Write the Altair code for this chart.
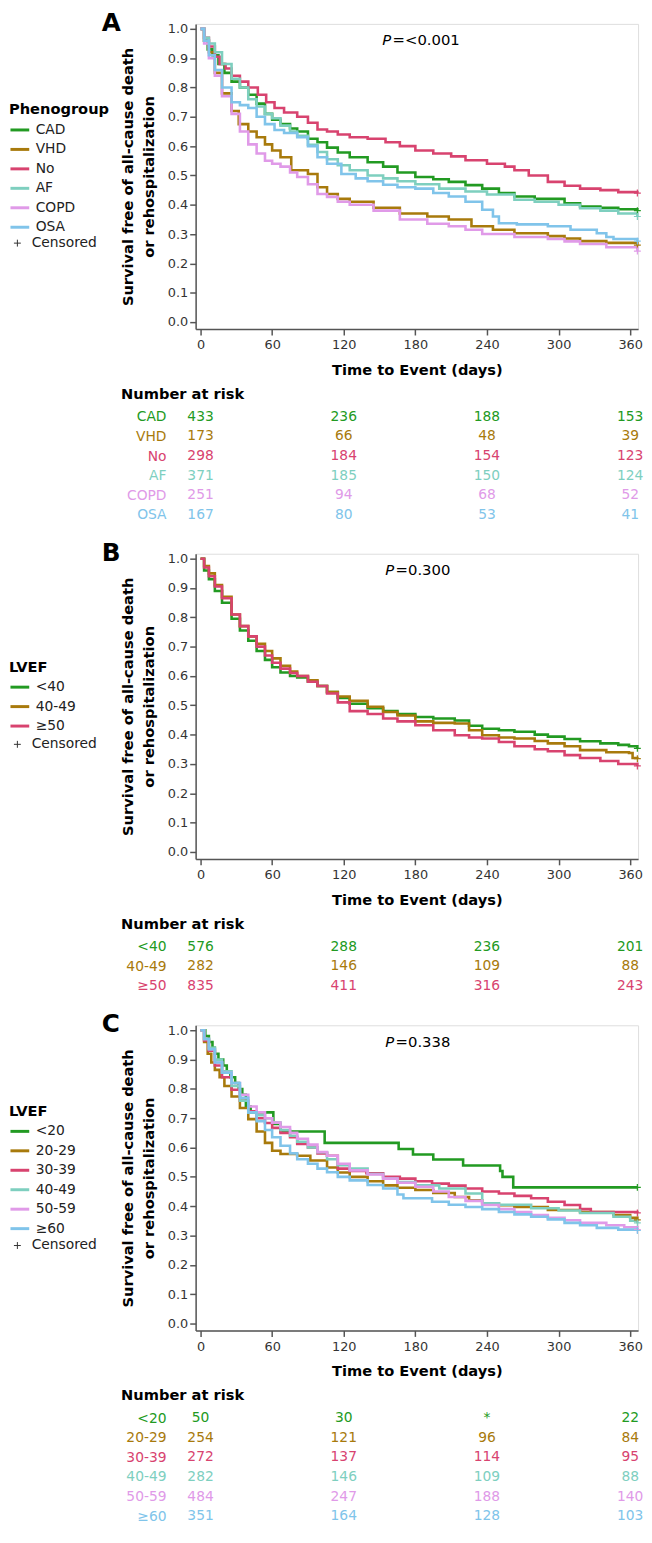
import altair as alt
import pandas as pd

FONT = "DejaVu Sans"

# ---------------- shared tick values ----------------
DAY_TICKS = [0, 60, 120, 180, 240, 300, 360]
SURV_TICKS = [0.0, 0.1, 0.2, 0.3, 0.4, 0.5, 0.6, 0.7, 0.8, 0.9, 1.0]
RISK_DAYS = [0, 120, 240, 360]

# ---------------- Panel A : Phenogroup ----------------
A_GROUPS = ["CAD", "VHD", "No", "AF", "COPD", "OSA"]
A_COLORS = ["#229a22", "#a87a0c", "#d8436f", "#7ecfbf", "#e09ae8", "#80c4ea"]
A_P = "=<0.001"
A_CAD = [(0, 1.0), (3, 0.96), (6, 0.93), (10, 0.91), (15, 0.88), (20, 0.85), (26, 0.82), (33, 0.80),
         (40, 0.775), (47, 0.745), (54, 0.71), (60, 0.69), (67, 0.675), (75, 0.66), (81, 0.65), (90, 0.625),
         (98, 0.613), (106, 0.595), (115, 0.578), (125, 0.562), (140, 0.545), (153, 0.53), (165, 0.51),
         (180, 0.495), (195, 0.487), (208, 0.478), (222, 0.467), (236, 0.455), (250, 0.44), (263, 0.428),
         (280, 0.42), (305, 0.405), (318, 0.394), (335, 0.39), (350, 0.385), (366, 0.38)]
A_VHD = [(0, 1.0), (3, 0.96), (7, 0.92), (12, 0.85), (18, 0.78), (26, 0.72), (32, 0.675), (40, 0.65),
         (47, 0.63), (54, 0.606), (60, 0.585), (67, 0.562), (76, 0.518), (90, 0.505), (98, 0.46),
         (106, 0.437), (115, 0.42), (125, 0.41), (145, 0.39), (167, 0.37), (190, 0.36), (208, 0.35),
         (227, 0.327), (245, 0.315), (263, 0.303), (291, 0.293), (305, 0.285), (318, 0.276), (340, 0.27),
         (366, 0.262)]
A_NO = [(0, 1.0), (3, 0.97), (7, 0.94), (12, 0.905), (16, 0.88), (21, 0.865), (26, 0.84), (33, 0.82),
        (40, 0.80), (48, 0.775), (55, 0.75), (62, 0.73), (70, 0.715), (81, 0.70), (90, 0.68), (98, 0.657),
        (106, 0.65), (115, 0.64), (125, 0.63), (140, 0.625), (155, 0.613), (167, 0.60), (180, 0.585),
        (195, 0.575), (210, 0.565), (222, 0.552), (240, 0.54), (255, 0.53), (263, 0.518), (275, 0.50),
        (291, 0.478), (305, 0.465), (318, 0.455), (335, 0.45), (350, 0.443), (366, 0.44)]
A_AF = [(0, 1.0), (3, 0.97), (7, 0.95), (12, 0.92), (18, 0.88), (26, 0.83), (33, 0.80), (40, 0.76),
        (47, 0.735), (54, 0.71), (60, 0.695), (67, 0.67), (75, 0.65), (81, 0.635), (90, 0.605), (98, 0.58),
        (106, 0.555), (115, 0.535), (125, 0.518), (140, 0.50), (153, 0.49), (165, 0.48), (180, 0.47),
        (200, 0.455), (222, 0.445), (240, 0.435), (263, 0.417), (280, 0.41), (300, 0.40), (318, 0.388),
        (335, 0.38), (350, 0.37), (366, 0.36)]
A_COPD = [(0, 1.0), (3, 0.95), (7, 0.90), (12, 0.84), (18, 0.77), (26, 0.71), (33, 0.65), (40, 0.606),
          (47, 0.575), (54, 0.55), (60, 0.54), (67, 0.53), (75, 0.51), (81, 0.495), (90, 0.47), (98, 0.437),
          (106, 0.427), (115, 0.41), (125, 0.40), (145, 0.38), (167, 0.35), (190, 0.335), (208, 0.327),
          (222, 0.315), (236, 0.30), (263, 0.29), (291, 0.283), (305, 0.275), (318, 0.266), (340, 0.255),
          (366, 0.242)]
A_OSA = [(0, 1.0), (3, 0.96), (7, 0.91), (12, 0.86), (18, 0.80), (26, 0.75), (33, 0.74), (40, 0.73),
         (47, 0.70), (54, 0.675), (62, 0.655), (70, 0.645), (81, 0.63), (90, 0.60), (98, 0.562), (106, 0.54),
         (118, 0.505), (130, 0.49), (140, 0.48), (153, 0.468), (165, 0.46), (180, 0.455), (195, 0.44),
         (208, 0.428), (222, 0.41), (236, 0.383), (245, 0.36), (250, 0.337), (265, 0.333), (291, 0.327),
         (310, 0.315), (332, 0.303), (340, 0.29), (346, 0.283), (366, 0.276)]
A_RISK_CAD = [433, 236, 188, 153]
A_RISK_VHD = [173, 66, 48, 39]
A_RISK_NO = [298, 184, 154, 123]
A_RISK_AF = [371, 185, 150, 124]
A_RISK_COPD = [251, 94, 68, 52]
A_RISK_OSA = [167, 80, 53, 41]

# ---------------- Panel B : LVEF (3 groups) ----------------
B_GROUPS = ["<40", "40-49", "≥50"]
B_COLORS = ["#229a22", "#a87a0c", "#d8436f"]
B_P = "=0.300"
B_LT40 = [(0, 1.0), (3, 0.96), (7, 0.93), (12, 0.89), (18, 0.85), (26, 0.795), (33, 0.755), (40, 0.72),
          (47, 0.685), (54, 0.655), (60, 0.63), (67, 0.612), (75, 0.60), (81, 0.595), (90, 0.58),
          (98, 0.566), (106, 0.545), (115, 0.525), (125, 0.505), (140, 0.49), (153, 0.48), (165, 0.47),
          (180, 0.46), (195, 0.455), (213, 0.448), (225, 0.43), (236, 0.42), (250, 0.415), (263, 0.41),
          (280, 0.40), (291, 0.393), (305, 0.385), (318, 0.377), (335, 0.37), (350, 0.365), (359, 0.36),
          (366, 0.353)]
B_40_49 = [(0, 1.0), (3, 0.975), (7, 0.95), (12, 0.91), (18, 0.87), (26, 0.81), (33, 0.77), (40, 0.735),
           (47, 0.71), (54, 0.685), (60, 0.66), (67, 0.635), (75, 0.615), (81, 0.60), (90, 0.585),
           (98, 0.566), (106, 0.545), (115, 0.53), (125, 0.515), (140, 0.495), (153, 0.477), (165, 0.465),
           (180, 0.445), (195, 0.44), (213, 0.438), (225, 0.415), (236, 0.398), (250, 0.39), (263, 0.387),
           (280, 0.378), (291, 0.37), (305, 0.36), (318, 0.347), (340, 0.34), (359, 0.337), (362, 0.32),
           (366, 0.318)]
B_GE50 = [(0, 1.0), (3, 0.97), (7, 0.94), (12, 0.905), (18, 0.865), (26, 0.81), (33, 0.77), (40, 0.735),
          (47, 0.70), (54, 0.67), (60, 0.645), (67, 0.625), (75, 0.61), (81, 0.60), (90, 0.58), (98, 0.566),
          (106, 0.54), (115, 0.51), (125, 0.48), (140, 0.47), (153, 0.455), (165, 0.445), (180, 0.432),
          (195, 0.415), (213, 0.398), (225, 0.39), (236, 0.387), (250, 0.375), (263, 0.36), (280, 0.35),
          (291, 0.343), (305, 0.33), (318, 0.32), (335, 0.31), (350, 0.30), (366, 0.293)]
B_RISK_LT40 = [576, 288, 236, 201]
B_RISK_40_49 = [282, 146, 109, 88]
B_RISK_GE50 = [835, 411, 316, 243]

# ---------------- Panel C : LVEF (6 groups) ----------------
C_GROUPS = ["<20", "20-29", "30-39", "40-49", "50-59", "≥60"]
C_COLORS = ["#229a22", "#a87a0c", "#d8436f", "#7ecfbf", "#e09ae8", "#80c4ea"]
C_P = "=0.338"
C_LT20 = [(0, 1.0), (4, 0.98), (7, 0.96), (10, 0.94), (12, 0.92), (15, 0.90), (19, 0.88), (22, 0.86),
          (25, 0.84), (29, 0.82), (32, 0.80), (35, 0.78), (38, 0.74), (42, 0.72), (61, 0.68), (67, 0.655),
          (104, 0.616), (166, 0.595), (178, 0.576), (195, 0.559), (220, 0.539), (251, 0.52), (253, 0.50),
          (262, 0.464), (366, 0.464)]
C_20_29 = [(0, 1.0), (3, 0.96), (6, 0.92), (9, 0.89), (12, 0.865), (16, 0.84), (20, 0.81), (26, 0.774),
           (33, 0.735), (40, 0.697), (47, 0.655), (54, 0.616), (60, 0.589), (67, 0.578), (81, 0.572),
           (92, 0.556), (106, 0.532), (115, 0.515), (125, 0.50), (140, 0.485), (153, 0.471), (165, 0.463),
           (180, 0.455), (195, 0.445), (213, 0.431), (225, 0.42), (236, 0.41), (250, 0.403), (263, 0.397),
           (291, 0.387), (318, 0.38), (346, 0.37), (360, 0.36), (366, 0.353)]
C_30_39 = [(0, 1.0), (3, 0.965), (7, 0.93), (12, 0.88), (18, 0.84), (26, 0.797), (33, 0.76), (40, 0.724),
           (47, 0.70), (54, 0.684), (60, 0.667), (67, 0.65), (75, 0.635), (81, 0.612), (90, 0.60), (98, 0.58),
           (106, 0.572), (115, 0.528), (125, 0.52), (139, 0.512), (153, 0.50), (167, 0.494), (180, 0.485),
           (194, 0.477), (208, 0.47), (222, 0.46), (236, 0.45), (250, 0.443), (263, 0.435), (277, 0.427),
           (291, 0.415), (305, 0.404), (318, 0.39), (327, 0.38), (366, 0.377)]
C_40_49 = [(0, 1.0), (3, 0.97), (7, 0.94), (12, 0.90), (18, 0.86), (26, 0.81), (33, 0.76), (40, 0.72),
           (47, 0.71), (54, 0.70), (60, 0.685), (67, 0.66), (75, 0.64), (81, 0.62), (90, 0.60), (98, 0.584),
           (106, 0.56), (115, 0.54), (125, 0.528), (140, 0.51), (153, 0.494), (165, 0.482), (180, 0.471),
           (200, 0.46), (222, 0.443), (236, 0.41), (250, 0.405), (277, 0.393), (300, 0.385), (318, 0.377),
           (346, 0.364), (360, 0.35), (366, 0.343)]
C_50_59 = [(0, 1.0), (3, 0.97), (7, 0.935), (12, 0.89), (18, 0.855), (26, 0.82), (33, 0.78), (40, 0.74),
           (47, 0.72), (54, 0.70), (60, 0.685), (67, 0.67), (75, 0.65), (81, 0.63), (90, 0.61), (98, 0.585),
           (106, 0.572), (115, 0.545), (125, 0.522), (140, 0.508), (153, 0.494), (165, 0.48), (180, 0.466),
           (195, 0.45), (208, 0.431), (222, 0.418), (236, 0.404), (250, 0.39), (263, 0.38), (277, 0.37),
           (291, 0.36), (305, 0.352), (318, 0.343), (340, 0.335), (355, 0.328), (366, 0.32)]
C_GE60 = [(0, 1.0), (3, 0.97), (7, 0.935), (12, 0.89), (18, 0.855), (26, 0.82), (33, 0.77), (40, 0.72),
          (47, 0.69), (54, 0.66), (60, 0.635), (67, 0.606), (75, 0.58), (81, 0.56), (90, 0.545), (98, 0.528),
          (106, 0.516), (115, 0.50), (125, 0.488), (140, 0.472), (153, 0.46), (165, 0.44), (170, 0.427),
          (194, 0.415), (208, 0.405), (222, 0.397), (236, 0.39), (250, 0.38), (263, 0.372), (277, 0.364),
          (291, 0.355), (305, 0.343), (318, 0.335), (332, 0.326), (350, 0.32), (366, 0.317)]
C_RISK_LT20 = [50, 30, "*", 22]
C_RISK_20_29 = [254, 121, 96, 84]
C_RISK_30_39 = [272, 137, 114, 95]
C_RISK_40_49 = [282, 146, 109, 88]
C_RISK_50_59 = [484, 247, 188, 140]
C_RISK_GE60 = [351, 164, 128, 103]

# ---------------- layout / style constants ----------------
W, H = 448, 309
X_DOMAIN = [-4.1, 366.6]
Y_DOMAIN = [-0.024, 1.017]
ROW_STEP = 19.8
TABLE_TOP = 388.1
P_S = 0.961
PLUS = "M-1,0L1,0M0,-1L0,1"
Y_TITLE = ["Survival free of all-cause death", "or rehospitalization"]


def make_panel(letter, legend_title, groups, colors, curves, risks, p_rest, p_t,
               leg_title_y, cens_y):
    rows = []
    for g, pts in zip(groups, curves):
        for t, s in pts:
            rows.append({"group": g, "t": t, "s": s})
    df = pd.DataFrame(rows)
    cens_df = pd.DataFrame([{"group": g, "t": pts[-1][0], "s": pts[-1][1], "cens": "Censored"}
                            for g, pts in zip(groups, curves)])
    risk_df = pd.DataFrame([{"group": g, "t": d, "n": str(v)}
                            for g, vals in zip(groups, risks) for d, v in zip(RISK_DAYS, vals)])
    p_df = pd.DataFrame({"t": [p_t], "s": [P_S], "a": ["P"], "b": [p_rest]})
    lab_df = pd.DataFrame({"lab": [letter]})

    xs = alt.Scale(domain=X_DOMAIN, nice=False, zero=False)
    ys = alt.Scale(domain=Y_DOMAIN, nice=False, zero=False)
    cs = alt.Scale(domain=groups, range=colors)

    x_axis = alt.Axis(values=DAY_TICKS, title="Time to Event (days)", grid=False,
                      labelFont=FONT, labelFontSize=13, labelColor="#333", labelPadding=4,
                      labelFlush=False, labelOverlap=False, tickSize=6, tickColor="#555", tickWidth=1.5,
                      domainColor="#555", domainWidth=1.5,
                      titleFont=FONT, titleFontSize=14.8, titleFontWeight="bold", titleColor="#000",
                      titleY=42, titleBaseline="middle")
    y_axis = alt.Axis(values=SURV_TICKS, tickCount=11, format=".1f", title=Y_TITLE, grid=False,
                      labelFont=FONT, labelFontSize=13, labelColor="#333", labelPadding=2,
                      labelFlush=False, labelOverlap=False, tickSize=6, tickColor="#555", tickWidth=1.5,
                      domainColor="#555", domainWidth=1.5,
                      titleFont=FONT, titleFontSize=14.8, titleFontWeight="bold", titleColor="#000",
                      titleX=-61, titleY=H / 2, titleAngle=270, titleBaseline="bottom",
                      titleAlign="center", titleLineHeight=21)
    leg = alt.Legend(title=legend_title, orient="none", legendX=-189, legendY=leg_title_y - 7.4,
                     direction="vertical", titleFont=FONT, titleFontSize=14.8, titleFontWeight="bold",
                     titleColor="#000", titlePadding=2, titleAnchor="start",
                     labelFont=FONT, labelFontSize=14, labelColor="#222", labelOffset=5,
                     symbolType="stroke", symbolSize=361, symbolStrokeWidth=3, rowPadding=1.7,
                     padding=0)
    sleg = alt.Legend(title=None, orient="none", legendX=-187.5, legendY=cens_y - 7,
                      labelFont=FONT, labelFontSize=14, labelColor="#222", labelOffset=7.5,
                      symbolSize=49, symbolStrokeWidth=1, symbolStrokeColor="#333",
                      symbolFillColor="transparent", padding=0)

    lines = alt.Chart(df).mark_line(interpolate="step-after", strokeWidth=2.6).encode(
        x=alt.X("t:Q", scale=xs, axis=x_axis),
        y=alt.Y("s:Q", scale=ys, axis=y_axis),
        color=alt.Color("group:N", scale=cs, sort=groups, legend=leg),
    )
    cens = alt.Chart(cens_df).mark_point(filled=False, size=49, strokeWidth=1.2, opacity=1).encode(
        x=alt.X("t:Q", scale=xs),
        y=alt.Y("s:Q", scale=ys),
        color=alt.Color("group:N", scale=cs, sort=groups, legend=None),
        shape=alt.Shape("cens:N", scale=alt.Scale(domain=["Censored"], range=[PLUS]), legend=sleg),
    )
    p1 = alt.Chart(p_df).mark_text(font=FONT, fontSize=15, fontStyle="italic", align="right",
                                   baseline="middle", color="#000").encode(
        x=alt.X("t:Q", scale=xs), y=alt.Y("s:Q", scale=ys), text="a:N")
    p2 = alt.Chart(p_df).mark_text(font=FONT, fontSize=15, align="left", dx=1.5,
                                   baseline="middle", color="#000").encode(
        x=alt.X("t:Q", scale=xs), y=alt.Y("s:Q", scale=ys), text="b:N")
    lab = alt.Chart(lab_df).mark_text(font=FONT, fontSize=25, fontWeight="bold", align="left",
                                      baseline="alphabetic", color="#000").encode(
        x=alt.value(-95), y=alt.value(7), text="lab:N")

    expr = " : ".join(f"datum.value === '{g}' ? '{c}'" for g, c in zip(groups, colors)) + " : '#000'"
    n = len(groups)
    tab = alt.Chart(risk_df).mark_text(font=FONT, fontSize=14, align="center", baseline="middle").encode(
        x=alt.X("t:Q", scale=xs),
        y=alt.Y("group:N", sort=groups,
                scale=alt.Scale(type="point", domain=groups,
                                range=[TABLE_TOP, TABLE_TOP + ROW_STEP * n], padding=0.5),
                axis=alt.Axis(orient="left", domain=False, ticks=False, grid=False, labelPadding=30,
                              labelFont=FONT, labelFontSize=14, labelColor={"expr": expr},
                              labelAlign="right", labelBaseline="middle", labelOverlap=False,
                              title="Number at risk", titleAngle=0, titleAlign="left",
                              titleBaseline="middle", titleX=-76, titleY=375, titleFont=FONT,
                              titleFontSize=14.8, titleFontWeight="bold", titleColor="#000")),
        color=alt.Color("group:N", scale=cs, sort=groups, legend=None),
        text="n:N",
    )

    km = alt.layer(lines, cens, p1, p2, lab)
    return alt.layer(km, tab).resolve_scale(y="independent").properties(width=W, height=H)


pA = make_panel("A", "Phenogroup", A_GROUPS, A_COLORS,
                [A_CAD, A_VHD, A_NO, A_AF, A_COPD, A_OSA],
                [A_RISK_CAD, A_RISK_VHD, A_RISK_NO, A_RISK_AF, A_RISK_COPD, A_RISK_OSA],
                A_P, 159.7, 87, 222)
pB = make_panel("B", "LVEF", B_GROUPS, B_COLORS,
                [B_LT40, B_40_49, B_GE50],
                [B_RISK_LT40, B_RISK_40_49, B_RISK_GE50],
                B_P, 162.2, 114.7, 193)
pC = make_panel("C", "LVEF", C_GROUPS, C_COLORS,
                [C_LT20, C_20_29, C_30_39, C_40_49, C_50_59, C_GE60],
                [C_RISK_LT20, C_RISK_20_29, C_RISK_30_39, C_RISK_40_49, C_RISK_50_59, C_RISK_GE60],
                C_P, 162.2, 87, 223)

chart = alt.vconcat(pA, pB, pC, spacing=17.5).resolve_scale(
    color="independent", shape="independent", x="independent", y="independent"
).properties(
    padding={"top": -7.5, "left": 0, "right": 0, "bottom": 0}
).configure_view(strokeWidth=0).configure(font=FONT)

chart.save("out.html", embed_options={"renderer": "svg", "actions": False})
